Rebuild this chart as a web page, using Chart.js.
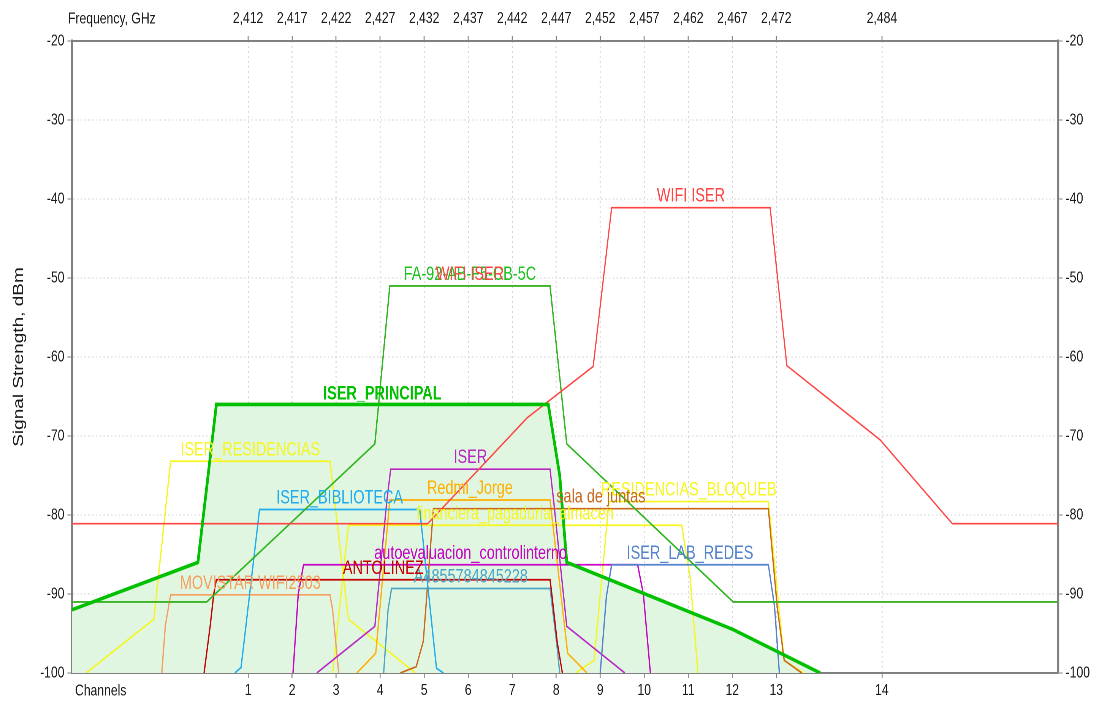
<!DOCTYPE html>
<html>
<head>
<meta charset="utf-8">
<title>Wi-Fi channels</title>
<script src="https://cdn.jsdelivr.net/npm/chart.js@4/dist/chart.umd.min.js"></script>
<style>
  html, body { margin: 0; padding: 0; background: #fff; overflow: hidden; }
  /* the reference is a horizontally squeezed screenshot, so draw wide and squeeze */
  #wrap { width: 1445px; height: 704px; transform: scaleX(0.76); transform-origin: 0 0; }
</style>
</head>
<body>
<div id="wrap"><canvas id="chart" width="1445" height="704"></canvas></div>
<script>
const SQUISH = 0.76;
const FONT = '"Liberation Sans", Arial, sans-serif';

// axes
const channelFreqs = [2412, 2417, 2422, 2427, 2432, 2437, 2442, 2447, 2452, 2457, 2462, 2467, 2472, 2484];
const channelLabels = ['1', '2', '3', '4', '5', '6', '7', '8', '9', '10', '11', '12', '13', '14'];
const freqLabels = ['2,412', '2,417', '2,422', '2,427', '2,432', '2,437', '2,442', '2,447', '2,452', '2,457', '2,462', '2,467', '2,472', '2,484'];
const freqMin = 2392, freqMax = 2504;
const dbmMin = -100, dbmMax = -20;

// networks: [MHz, dBm]
const iserPrincipal = [[2392, -92], [2406.3, -86], [2408.4, -66], [2446.1, -66], [2447.4, -75], [2448.2, -86], [2467.1, -94.5], [2477, -100]];
const wifiIser = [[2392, -81.1], [2432.4, -81.1], [2443.7, -67.7], [2451.2, -61.2], [2453.3, -41.1], [2471.3, -41.1], [2473.2, -61.1], [2483.8, -70.5], [2492, -81.1], [2504, -81.1]];
const faNet = [[2392, -91], [2407.3, -91], [2426.4, -71], [2428.1, -51], [2446.3, -51], [2448.2, -71], [2467.1, -91], [2504, -91]];
const wifiIserHidden = [[2392, -91], [2407.3, -91], [2426.4, -71], [2428.1, -51], [2446.3, -51], [2448.2, -71], [2467.1, -91], [2504, -91]];
const iserResidencias = [[2393.6, -100], [2401.3, -93.2], [2403.2, -73.2], [2421.3, -73.2], [2423.4, -93.2], [2431, -100]];
const iserBiblioteca = [[2410.5, -100], [2411.2, -99.3], [2413.3, -79.3], [2431.5, -79.3], [2433.4, -99.4], [2434.2, -100]];
const movistar = [[2402.2, -100], [2402.6, -94], [2403.2, -90.1], [2421.3, -90.1], [2421.6, -92], [2422.3, -100]];
const antolinez = [[2407, -100], [2407.7, -94], [2408.1, -90], [2408.4, -88.2], [2446.3, -88.2], [2446.5, -90], [2447.1, -96], [2447.7, -100]];
const autoevaluacion = [[2417.1, -100], [2417.7, -90], [2418.3, -86.3], [2456.25, -86.3], [2456.9, -90], [2457.7, -100]];
const iser = [[2419.8, -100], [2426.4, -94.1], [2427.75, -78.3], [2428.2, -74.2], [2446.3, -74.2], [2446.7, -78.1], [2448.2, -94.1], [2454.8, -100]];
const redmiJorge = [[2424.35, -100], [2426.5, -97.5], [2428.1, -78.1], [2446.3, -78.1], [2448.3, -97.5], [2450.5, -100]];
const financiera = [[2421.6, -100], [2423.4, -81.3], [2461.25, -81.3], [2462.2, -87.8], [2463.1, -100]];
const salaJuntas = [[2429.3, -100], [2431.1, -99.2], [2431.9, -96], [2433.05, -79.2], [2471.1, -79.2], [2472.1, -91.6], [2472.9, -98.4], [2474.9, -100]];
const a4855 = [[2427.4, -100], [2427.9, -92], [2428.3, -89.3], [2446.3, -89.3], [2447.05, -96.2], [2447.4, -100]];
const residBloqueB = [[2449.2, -100], [2451.3, -98.4], [2453, -78.3], [2471.1, -78.3], [2472.9, -98.4], [2475.1, -100]];
const iserLabRedes = [[2452, -100], [2452.7, -90.3], [2453.3, -86.3], [2471.1, -86.3], [2471.8, -91.6], [2472.35, -100]];

function net(label, pts, color, width, extra) {
  return Object.assign({
    label,
    data: pts.map(p => ({ x: p[0], y: p[1] })),
    borderColor: color,
    borderWidth: width,
    pointRadius: 0,
    tension: 0,
    fill: false
  }, extra || {});
}

// first dataset is drawn on top
const datasets = [
  net('ISER_PRINCIPAL', iserPrincipal, '#00c000', 3.6, { fill: 'start', backgroundColor: '#e0f6e0', bold: true }),
  net('WIFI ISER', wifiIser, '#ff4444', 1.6),
  net('FA-92-AB-F5-CB-5C', faNet, '#1ec01e', 1.6),
  net('WIFI ISER', wifiIserHidden, '#ff4444', 1.6, { labelOnTop: true }),
  net('ISER_BIBLIOTECA', iserBiblioteca, '#1eacf0', 1.7),
  net('ANTOLINEZ', antolinez, '#c40000', 1.7),
  net('sala de juntas', salaJuntas, '#c8691e', 1.7),
  net('ISER_LAB_REDES', iserLabRedes, '#5482cc', 1.7),
  net('A4855784845228', a4855, '#4ea6c6', 1.7),
  net('autoevaluacion_controlinterno', autoevaluacion, '#c800c8', 1.7),
  net('ISER', iser, '#b828c4', 1.7),
  net('Redmi_Jorge', redmiJorge, '#ffb000', 1.7),
  net('MOVISTAR WIFI2503', movistar, '#f4a060', 1.7),
  net('ISER_RESIDENCIAS', iserResidencias, '#f6f61e', 1.7),
  net('RESIDENCIAS_BLOQUEB', residBloqueB, '#f6f61e', 1.7),
  net('financiera_pagaduria_almacen', financiera, '#f6f61e', 1.7)
];

// SSID text above each network's flat top
const netLabels = {
  id: 'netLabels',
  afterDatasetsDraw(chart) {
    const { ctx, scales: { x, y } } = chart;
    const list = chart.data.datasets.slice().reverse();
    list.sort((a, b) => (a.labelOnTop ? 1 : 0) - (b.labelOnTop ? 1 : 0));
    ctx.save();
    ctx.textAlign = 'center';
    ctx.textBaseline = 'alphabetic';
    list.forEach(ds => {
      const top = Math.max(...ds.data.map(p => p.y));
      const flat = ds.data.filter(p => p.y === top);
      const cx = (flat[0].x + flat[flat.length - 1].x) / 2;
      ctx.font = (ds.bold ? 'bold ' : '') + '19px ' + FONT;
      ctx.fillStyle = ds.borderColor;
      ctx.fillText(ds.label, x.getPixelForValue(cx), y.getPixelForValue(top) - (ds.bold ? 5 : 6));
    });
    ctx.restore();
  }
};

// corner captions
const axisCaptions = {
  id: 'axisCaptions',
  afterDraw(chart) {
    const { ctx } = chart;
    ctx.save();
    ctx.font = '16px ' + FONT;
    ctx.fillStyle = '#1a1a1a';
    ctx.textAlign = 'left';
    ctx.textBaseline = 'middle';
    ctx.fillText('Frequency, GHz', 68 / SQUISH, 19);
    ctx.fillText('Channels', 75 / SQUISH, 691);
    ctx.restore();
  }
};

const tickFont = { family: FONT, size: 16 };
const gridBase = { color: '#d2d2d2', tickColor: '#808080', tickBorderDash: [] };
const borderBase = { color: '#808080', dash: [2, 3] };

function channelTicks(scale) {
  scale.ticks = channelFreqs.map(v => ({ value: v }));
}

new Chart(document.getElementById('chart'), {
  type: 'line',
  data: { datasets },
  plugins: [netLabels, axisCaptions],
  options: {
    responsive: false,
    animation: false,
    devicePixelRatio: 2,
    layout: { padding: 0, autoPadding: false },
    plugins: {
      legend: { display: false },
      tooltip: { enabled: false },
      filler: { drawTime: 'beforeDatasetsDraw' }
    },
    scales: {
      x: {
        type: 'linear', position: 'bottom', min: freqMin, max: freqMax,
        afterBuildTicks: channelTicks,
        afterFit: s => { s.height = 31; },
        ticks: { autoSkip: false, maxRotation: 0, minRotation: 0, padding: 3, color: '#1a1a1a', font: tickFont,
          callback: (v, i) => channelLabels[i] },
        grid: Object.assign({}, gridBase, { lineWidth: 1.3, tickLength: 5, tickWidth: 1.3 }),
        border: Object.assign({}, borderBase, { width: 2 })
      },
      x2: {
        type: 'linear', position: 'top', min: freqMin, max: freqMax,
        afterBuildTicks: channelTicks,
        afterFit: s => { s.height = 41; },
        ticks: { autoSkip: false, maxRotation: 0, minRotation: 0, padding: 8, color: '#1a1a1a', font: tickFont,
          callback: (v, i) => freqLabels[i] },
        grid: Object.assign({}, gridBase, { drawOnChartArea: false, tickLength: 5, tickWidth: 1.3 }),
        border: Object.assign({}, borderBase, { width: 2 })
      },
      y: {
        position: 'left', min: dbmMin, max: dbmMax,
        afterFit: s => { s.width = 72 / SQUISH; },
        ticks: { stepSize: 10, padding: 4, color: '#1a1a1a', font: tickFont },
        title: { display: true, text: 'Signal Strength, dBm', color: '#1a1a1a', font: { family: FONT, size: 19 }, padding: { top: 14, bottom: 0 } },
        grid: Object.assign({}, gridBase, { lineWidth: 1, tickLength: 6, tickWidth: 1 }),
        border: Object.assign({}, borderBase, { width: 2.6 })
      },
      y2: {
        position: 'right', min: dbmMin, max: dbmMax,
        afterFit: s => { s.width = 1445 - 1058 / SQUISH; },
        ticks: { stepSize: 10, padding: 4, color: '#1a1a1a', font: tickFont },
        grid: Object.assign({}, gridBase, { drawOnChartArea: false, tickLength: 6, tickWidth: 1 }),
        border: Object.assign({}, borderBase, { width: 2.6 })
      }
    }
  }
});
</script>
</body>
</html>
